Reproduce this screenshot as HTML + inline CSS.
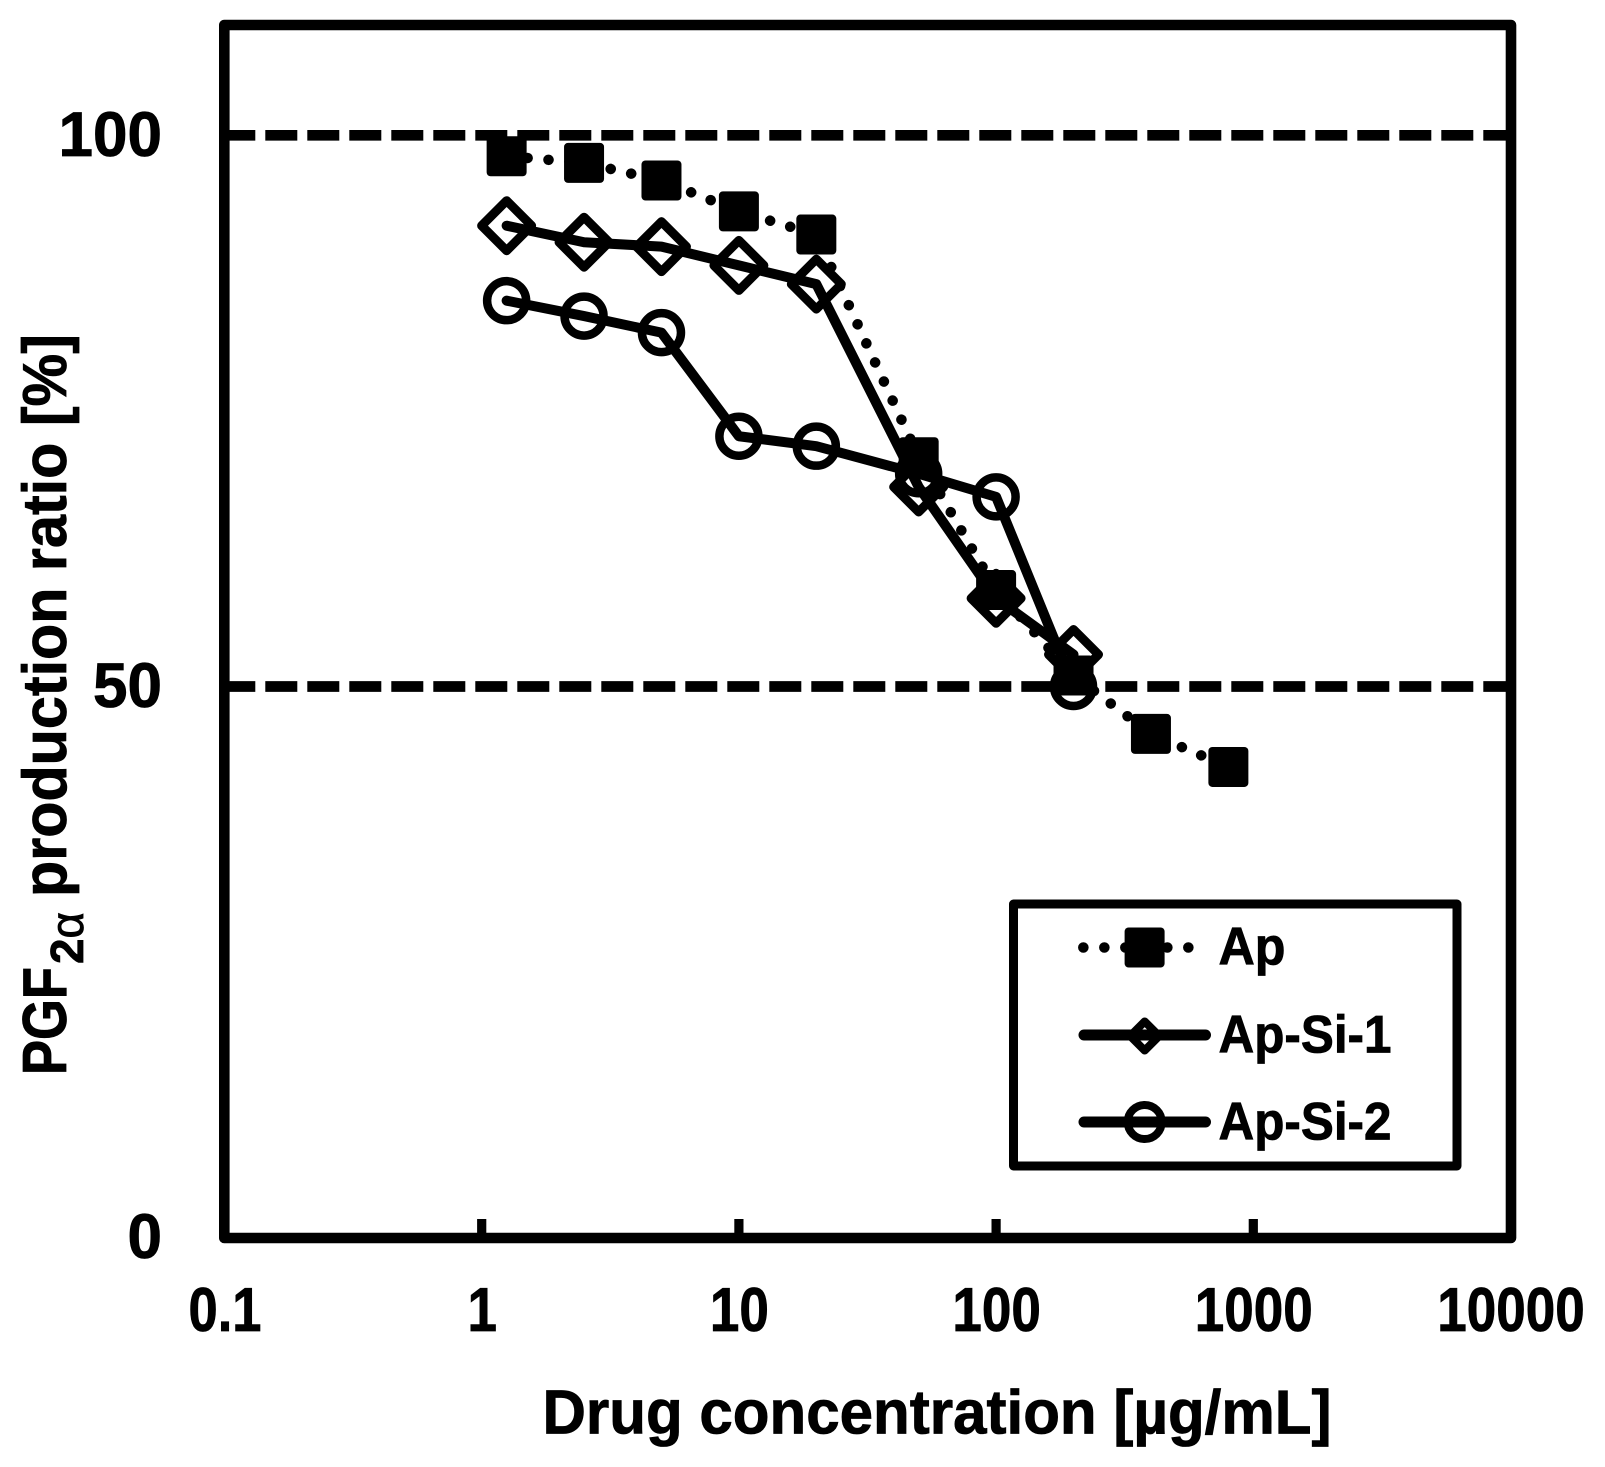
<!DOCTYPE html>
<html lang="en">
<head>
<meta charset="utf-8">
<title>PGF2α production ratio vs drug concentration</title>
<style>
  html, body { margin: 0; padding: 0; background: #fff; }
  svg { display: block; }
  text { font-family: "Liberation Sans", sans-serif; font-weight: 700; fill: #000; stroke: #000; stroke-width: 0.8; }
</style>
</head>
<body>
<svg id="chart" xmlns="http://www.w3.org/2000/svg" width="1605" height="1467" viewBox="0 0 1605 1467">
  <rect x="0" y="0" width="1605" height="1467" fill="#fff"/>
  <g id="reference-layer"></g>
  <g id="series-layer"></g>
  <rect x="224.3" y="25" width="1286.7" height="1213" fill="none" stroke="#000" stroke-width="10.6" stroke-linejoin="round"/>
  <g id="tick-layer"></g>

  <text x="542.5" y="1433.5" font-size="62" textLength="789" lengthAdjust="spacingAndGlyphs">Drug concentration [µg/mL]</text>

  <g>
    <text transform="translate(66,1075) rotate(-90)" font-size="62" textLength="108" lengthAdjust="spacingAndGlyphs">PGF</text>
    <text transform="translate(83,964) rotate(-90)" font-size="46" textLength="52" lengthAdjust="spacingAndGlyphs">2<tspan style="font-weight:400">α</tspan></text>
    <text transform="translate(66,897) rotate(-90)" font-size="62" textLength="563" lengthAdjust="spacingAndGlyphs">production ratio [%]</text>
  </g>

  <g>
    <rect x="1013.5" y="904" width="443.5" height="262" fill="#fff" stroke="#000" stroke-width="9" stroke-linejoin="round"/>
    <g>
      <line x1="1083.3" y1="947.5" x2="1191" y2="947.5" stroke="#000" stroke-width="10.5" stroke-linecap="round" stroke-dasharray="0.1 20.9"/>
      <rect x="1124.6" y="927.5" width="40" height="40" rx="4" fill="#000"/>
      <text x="1218.5" y="964.5" font-size="53" textLength="67" lengthAdjust="spacingAndGlyphs">Ap</text>
    </g>
    <g>
      <line x1="1084" y1="1035" x2="1205.5" y2="1035" stroke="#000" stroke-width="11" stroke-linecap="round"/>
      <polygon points="1144.7,1021.5 1159.2,1036 1144.7,1050.5 1130.2,1036" fill="none" stroke="#000" stroke-width="8" stroke-linejoin="round"/>
      <text x="1218.5" y="1052.5" font-size="53" textLength="173" lengthAdjust="spacingAndGlyphs">Ap-Si-1</text>
    </g>
    <g>
      <line x1="1084" y1="1122" x2="1205.5" y2="1122" stroke="#000" stroke-width="11" stroke-linecap="round"/>
      <circle cx="1144.7" cy="1122" r="17" fill="none" stroke="#000" stroke-width="8"/>
      <text x="1218.5" y="1139.5" font-size="53" textLength="173" lengthAdjust="spacingAndGlyphs">Ap-Si-2</text>
    </g>
  </g>
</svg>
<script>
const apConcentrations = [1.25, 2.5, 5, 10, 20, 50, 100, 200, 400, 800];
const apValues = [98.1, 97.5, 95.9, 93.1, 91.0, 70.8, 58.75, 51.0, 45.7, 42.7];
const si1Concentrations = [1.25, 2.5, 5, 10, 20, 50, 100, 200];
const si1Values = [91.8, 90.3, 89.9, 88.2, 86.5, 68.1, 58.0, 52.9];
const si2Concentrations = [1.25, 2.5, 5, 10, 20, 50, 100, 200];
const si2Values = [85.0, 83.6, 82.1, 72.7, 71.8, 69.3, 67.2, 50.0];
const xTickValues = [1, 10, 100, 1000];
const xTickLabelValues = [0.1, 1, 10, 100, 1000, 10000];
const xTickLabels = ["0.1", "1", "10", "100", "1000", "10000"];
const yTickValues = [100, 50, 0];
const yTickLabels = ["100", "50", "0"];
const referenceValues = [100, 50];

const SVG_NS = "http://www.w3.org/2000/svg";
const xOrigin = 224.5, xPerDecade = 257.2;
const y50 = 686.5, yPerUnit = 11.024;
function xScale(v) { return xOrigin + xPerDecade * (Math.log10(v) + 1); }
function yScale(v) { return y50 - (v - 50) * yPerUnit; }
function make(tag, attrs, parent) {
  const el = document.createElementNS(SVG_NS, tag);
  for (const k in attrs) el.setAttribute(k, attrs[k]);
  parent.appendChild(el);
  return el;
}
function pointsString(xs, ys) {
  return xs.map(function (x, i) { return xScale(x).toFixed(2) + "," + yScale(ys[i]).toFixed(2); }).join(" ");
}

const refLayer = document.getElementById("reference-layer");
referenceValues.forEach(function (v) {
  const line = make("line", { x1: 223.3, x2: 1511, y1: yScale(v), y2: yScale(v), stroke: "#000", "stroke-width": 10.7, "stroke-dasharray": "32 10" }, refLayer);
  
  
});

const seriesLayer = document.getElementById("series-layer");

// Ap: dotted line with filled squares
const apGroup = make("g", {}, seriesLayer);


const apLine = make("polyline", { points: pointsString(apConcentrations, apValues), fill: "none", stroke: "#000", "stroke-width": 10.5, "stroke-linecap": "round", "stroke-linejoin": "round", "stroke-dasharray": "0.1 20.9" }, apGroup);


apConcentrations.forEach(function (c, i) {
  const m = make("rect", { x: xScale(c) - 20, y: yScale(apValues[i]) - 20, width: 40, height: 40, rx: 4, fill: "#000" }, apGroup);
  
  
});

// Ap-Si-1: solid line with open diamonds
const si1Group = make("g", {}, seriesLayer);


const si1Line = make("polyline", { points: pointsString(si1Concentrations, si1Values), fill: "none", stroke: "#000", "stroke-width": 10, "stroke-linecap": "round", "stroke-linejoin": "round" }, si1Group);


si1Concentrations.forEach(function (c, i) {
  const cx = xScale(c), cy = yScale(si1Values[i]), r = 25;
  const m = make("polygon", { points: [cx, cy - r, cx + r, cy, cx, cy + r, cx - r, cy].join(" "), fill: "none", stroke: "#000", "stroke-width": 9, "stroke-linejoin": "round" }, si1Group);
  
  
});

// Ap-Si-2: solid line with open circles
const si2Group = make("g", {}, seriesLayer);


const si2Line = make("polyline", { points: pointsString(si2Concentrations, si2Values), fill: "none", stroke: "#000", "stroke-width": 10, "stroke-linecap": "round", "stroke-linejoin": "round" }, si2Group);


si2Concentrations.forEach(function (c, i) {
  const m = make("circle", { cx: xScale(c), cy: yScale(si2Values[i]), r: 19.5, fill: "none", stroke: "#000", "stroke-width": 8.5 }, si2Group);
  
  
});

const tickLayer = document.getElementById("tick-layer");
xTickValues.forEach(function (v) {
  const t = make("line", { x1: xScale(v), x2: xScale(v), y1: 1219, y2: 1236, stroke: "#000", "stroke-width": 9.2 }, tickLayer);
  
  
});
xTickLabels.forEach(function (label, i) {
  const digits = label.replace(".", "").length, dots = label.length - digits;
  const t = make("text", { x: xScale(xTickLabelValues[i]) + 0.5, y: 1331, "font-size": 62, "text-anchor": "middle", textLength: digits * 29.5 + dots * 14, lengthAdjust: "spacingAndGlyphs" }, tickLayer);
  t.textContent = label;
  
  
});
yTickLabels.forEach(function (label, i) {
  const t = make("text", { x: 162, y: yScale(yTickValues[i]) + 20.5, "font-size": 63, "text-anchor": "end", textLength: label.length * 34.5, lengthAdjust: "spacingAndGlyphs" }, tickLayer);
  t.textContent = label;
  
  
});
</script>
</body>
</html>
